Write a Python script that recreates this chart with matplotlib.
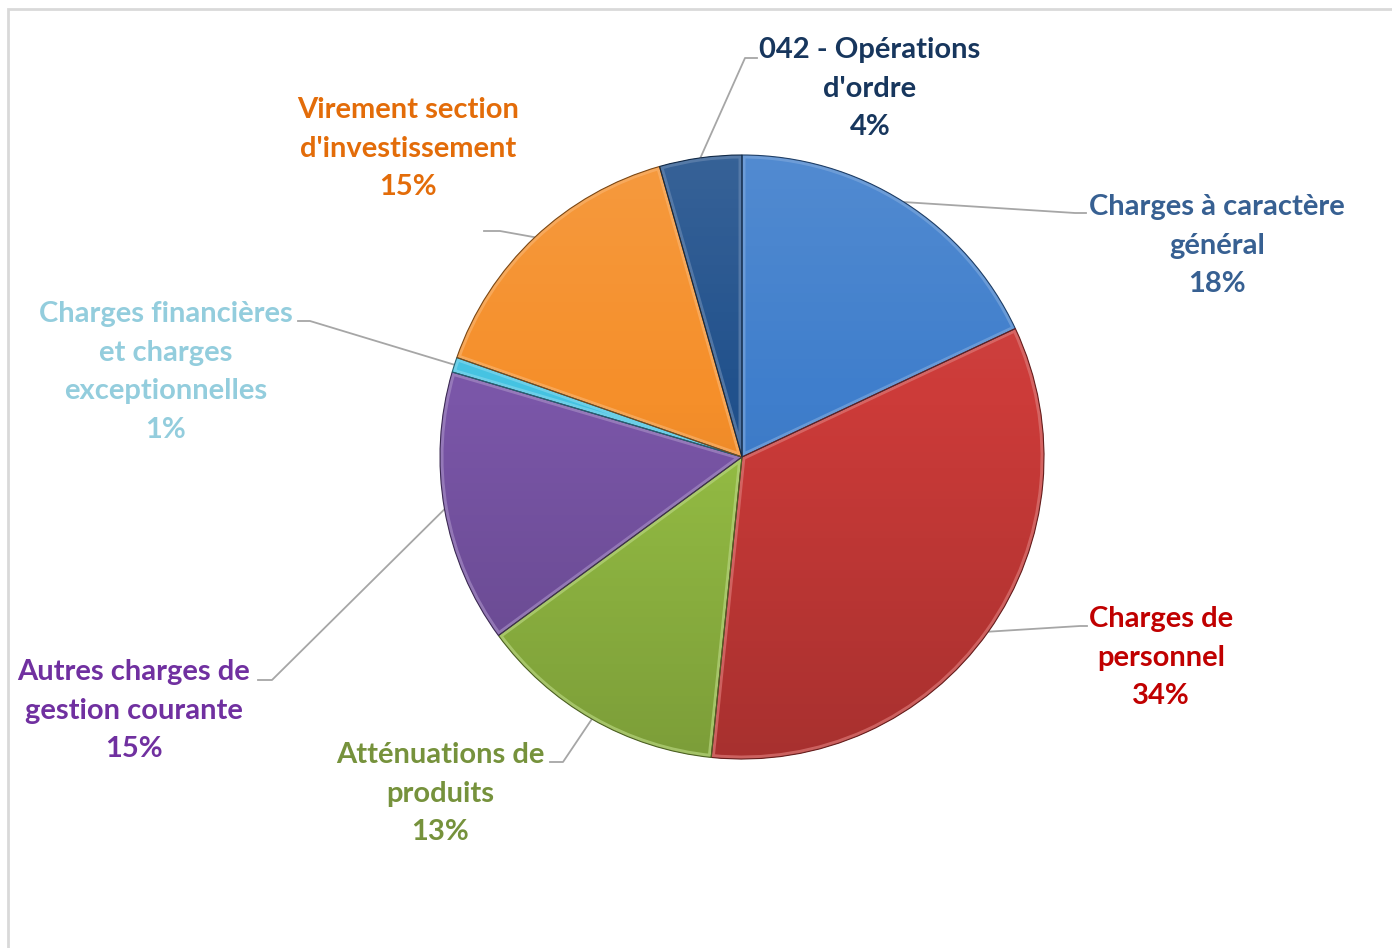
import matplotlib.pyplot as plt
import numpy as np
from matplotlib.patches import Circle, Rectangle, Wedge
from matplotlib.colors import to_rgb

W, H = 1392, 948

labels = ["Charges à caractère\ngénéral", "Charges de\npersonnel", "Atténuations de\nproduits",
          "Autres charges de\ngestion courante", "Charges financières\net charges\nexceptionnelles",
          "Virement section\nd'investissement", "042 - Opérations\nd'ordre"]
values = [18.0, 33.6, 13.3, 14.6, 0.8, 15.25, 4.4]
pct_text = ["18%", "34%", "13%", "15%", "1%", "15%", "4%"]

slice_colors = ["#3F7ECC", "#CC3B39", "#97C045", "#7A56A8", "#45C3E2", "#F58F2A", "#21518C"]
text_colors = ["#376092", "#C00000", "#76923C", "#7030A0", "#93CDDD", "#E36C09", "#17365D"]

# label layout in pixel coordinates (top-left origin): text centre x, first line y,
# elbow of the leader line and the end of its short horizontal stub
label_pos = [(1217, 205), (1161, 617), (440, 753), (134, 670), (166, 312), (408, 108), (870, 48)]
elbows = [((1075, 213), (1086, 213)), ((1080, 626), (1087, 626)), ((563, 762), (550, 762)),
          ((272, 680), (258, 680)), ((310, 321), (298, 321)), ((500, 231), (484, 231)),
          ((745, 58), (757, 58))]

cx, cy, r = 742, H - 457, 302


def px(x, y):
    return x, H - y


def lighten(c, f):
    c = np.array(to_rgb(c))
    return tuple(c + (1 - c) * f)


def darken(c, f):
    return tuple(np.array(to_rgb(c)) * (1 - f))


plt.rcParams['font.family'] = ['Lato', 'DejaVu Sans']

fig = plt.figure(figsize=(W / 100, H / 100), dpi=100)
ax = fig.add_axes([0, 0, 1, 1])

wedges, _ = ax.pie(values, colors=slice_colors, startangle=90, counterclock=False,
                   center=(cx, cy), radius=r, frame=True,
                   wedgeprops=dict(edgecolor='none'))

# lighting: slight light at the top, darker at the bottom, clipped to the disc
n = 256
grad = np.zeros((n, 1, 4))
t = np.linspace(0, 1, n)
grad[:, 0, :3] = np.where(t[:, None] < 0.4, 1.0, 0.0)
grad[:, 0, 3] = np.where(t < 0.4, (0.4 - t) * 0.25, (t - 0.4) * 0.3)
disc = Circle((cx, cy), r, transform=ax.transData)
im = ax.imshow(grad, extent=[cx - r, cx + r, cy - r, cy + r], origin='upper',
               aspect='auto', zorder=3, interpolation='bilinear')
im.set_clip_path(disc)

# bevel around each slice
for w, col in zip(wedges, slice_colors):
    bev = Wedge((cx, cy), r, w.theta1, w.theta2, facecolor='none',
                edgecolor=lighten(col, 0.3), linewidth=5, alpha=0.7, zorder=4)
    ax.add_patch(bev)
    bev.set_clip_path(w)
    ax.add_patch(Wedge((cx, cy), r, w.theta1, w.theta2, facecolor='none',
                       edgecolor=darken(col, 0.5), linewidth=0.8, zorder=5))

# leader lines and labels
for w, lab, pct, tc, (tx, ty), (e1, e2) in zip(wedges, labels, pct_text, text_colors, label_pos, elbows):
    mid = np.deg2rad((w.theta1 + w.theta2) / 2)
    ax_, ay_ = cx + r * np.cos(mid), cy + r * np.sin(mid)
    xs = [ax_, e1[0], e2[0]]
    ys = [ay_, H - e1[1], H - e2[1]]
    ax.plot(xs, ys, color='#A6A6A6', linewidth=1.3, zorder=2)
    ax.text(*px(tx, ty - 11), lab + "\n" + pct, color=tc, fontsize=21, fontweight='bold',
            ha='center', va='top', linespacing=1.6)

ax.add_patch(Rectangle((8, -10), W + 20, H - 9 + 10, facecolor='none',
                       edgecolor='#D9D9D9', linewidth=2, zorder=1))

ax.set_xlim(0, W)
ax.set_ylim(0, H)
ax.set_aspect('equal')
ax.axis('off')

fig.savefig('out.png', dpi=100, facecolor='white')
